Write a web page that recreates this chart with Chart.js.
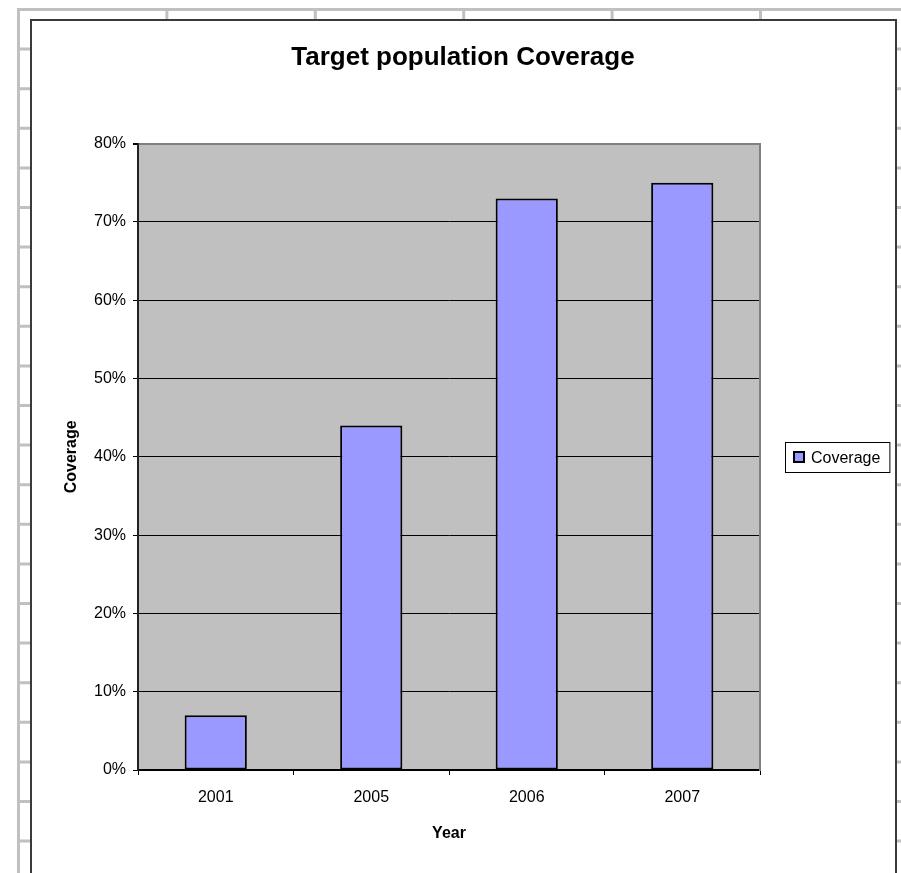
<!DOCTYPE html>
<html>
<head>
<meta charset="utf-8">
<title>Target population Coverage</title>
<script src="https://cdn.jsdelivr.net/npm/chart.js@4.4.1/dist/chart.umd.min.js"></script>
<style>
  html, body { margin: 0; padding: 0; background: #fff; }
  canvas { display: block; }
</style>
</head>
<body>
<canvas id="coverageChart" width="901" height="873"></canvas>
<script>
// Chart data
const years = ['2001', '2005', '2006', '2007'];
const coverage = [7, 44, 73, 75]; // percent
const yTicks = [0, 10, 20, 30, 40, 50, 60, 70, 80];

const FONT = '"Liberation Sans", Arial, sans-serif';

Chart.defaults.color = '#000';
Chart.defaults.font.family = FONT;
Chart.defaults.font.size = 16;

// Spreadsheet cells behind the chart + chart frame + grey plot area
const sheetBackground = {
    id: 'sheetBackground',
    beforeDraw(chart) {
        const { ctx, width, height, chartArea } = chart;
        ctx.save();
        ctx.fillStyle = '#fff';
        ctx.fillRect(0, 0, width, height);

        ctx.strokeStyle = '#c0c0c0';
        ctx.lineWidth = 3;
        ctx.beginPath();
        for (let x = 18.5; x < width; x += 148.4) {
            ctx.moveTo(x, 9.5);
            ctx.lineTo(x, height);
        }
        for (let y = 9.5; y < height; y += 39.6) {
            ctx.moveTo(17, y);
            ctx.lineTo(width, y);
        }
        ctx.stroke();

        // chart object frame
        ctx.fillStyle = '#fff';
        ctx.fillRect(30, 19, 867, height);
        ctx.strokeStyle = '#3a3a3a';
        ctx.lineWidth = 2;
        ctx.strokeRect(31, 20, 865, height + 10);

        // plot area
        ctx.fillStyle = '#c0c0c0';
        ctx.fillRect(chartArea.left, chartArea.top, chartArea.right - chartArea.left, chartArea.bottom - chartArea.top);
        ctx.restore();
    }
};

// Excel style boxed legend to the right of the plot
const boxLegend = {
    id: 'boxLegend',
    afterDraw(chart) {
        const { ctx, chartArea } = chart;
        const ds = chart.data.datasets[0];
        ctx.save();
        ctx.font = '16px ' + FONT;
        const tw = ctx.measureText(ds.label).width;
        const w = 9 + 10 + 7 + tw + 9;
        const h = 30;
        const x = chartArea.right + 25;
        const y = Math.round((chartArea.top + chartArea.bottom) / 2 - h / 2);

        ctx.fillStyle = '#fff';
        ctx.fillRect(x, y, w, h);
        ctx.strokeStyle = '#000';
        ctx.lineWidth = 1;
        ctx.strokeRect(x + 0.5, y + 0.5, w, h);

        ctx.fillStyle = ds.backgroundColor;
        ctx.fillRect(x + 9, y + 10, 10, 10);
        ctx.lineWidth = 2;
        ctx.strokeRect(x + 9, y + 10, 10, 10);

        ctx.fillStyle = '#000';
        ctx.textBaseline = 'middle';
        ctx.textAlign = 'left';
        ctx.fillText(ds.label, x + 26, y + h / 2 + 2);
        ctx.restore();
    }
};

new Chart(document.getElementById('coverageChart'), {
    type: 'bar',
    data: {
        labels: years,
        datasets: [{
            label: 'Coverage',
            data: coverage,
            backgroundColor: '#9999ff',
            borderColor: '#000',
            borderWidth: 2,
            borderSkipped: false,
            barPercentage: 0.4,
            categoryPercentage: 1.0
        }]
    },
    options: {
        responsive: false,
        animation: false,
        layout: {
            padding: { top: 20, left: 30, right: 5, bottom: 0 }
        },
        plugins: {
            legend: { display: false },
            tooltip: { enabled: false },
            title: {
                display: true,
                text: 'Target population Coverage',
                color: '#000',
                font: { size: 26, weight: 'bold', family: FONT },
                padding: { top: 22, bottom: 70.5 }
            }
        },
        scales: {
            x: {
                grid: {
                    drawOnChartArea: false,
                    drawTicks: true,
                    tickLength: 5,
                    color: '#000',
                    offset: true
                },
                border: { color: '#000', width: 1.5 },
                ticks: { padding: 13, font: { size: 16 } },
                title: {
                    display: true,
                    text: 'Year',
                    font: { size: 16, weight: 'bold' },
                    padding: { top: 0, bottom: 30 }
                },
                afterFit: s => { s.height = 103; }
            },
            y: {
                min: 0,
                max: 80,
                afterBuildTicks: s => { s.ticks = yTicks.map(v => ({ value: v })); },
                grid: {
                    color: c => (c.tick && c.tick.value === 80 ? '#808080' : '#000'),
                    lineWidth: c => (c.tick && c.tick.value === 80 ? 2 : 1),
                    tickColor: '#000',
                    tickLength: 5
                },
                border: { color: '#222', width: 2 },
                ticks: {
                    padding: 7,
                    font: { size: 16 },
                    callback: v => v + '%'
                },
                title: {
                    display: true,
                    text: 'Coverage',
                    font: { size: 16, weight: 'bold' },
                    padding: { top: 32, bottom: 0 }
                },
                afterFit: s => { s.width = 108; }
            },
            // empty right-hand box that reserves the legend column and draws the plot's right edge
            yRight: {
                type: 'linear',
                position: 'right',
                display: true,
                grid: { display: false, drawTicks: false },
                ticks: { display: false },
                border: { display: true, color: '#808080', width: 2 },
                afterFit: s => { s.width = 136; }
            }
        }
    },
    plugins: [sheetBackground, boxLegend]
});
</script>
</body>
</html>
